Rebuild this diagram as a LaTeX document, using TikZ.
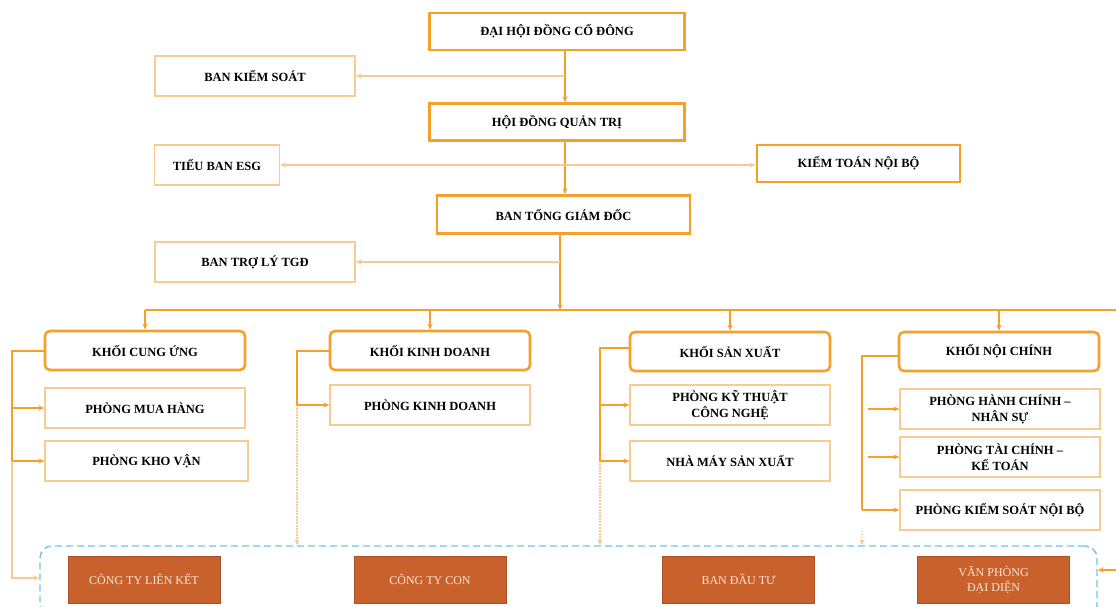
\documentclass[tikz,border=0pt]{standalone}
\usepackage{fontspec}
\setmainfont{Liberation Serif}
\usetikzlibrary{arrows.meta}
\definecolor{cam}{HTML}{F5A02A}
\definecolor{camnhat}{HTML}{F8CC90}
\definecolor{nau}{HTML}{C8612C}
\definecolor{chunau}{HTML}{F7E6D4}
\definecolor{xanh}{HTML}{6EC6E2}

\begin{document}
\begin{tikzpicture}[x=1pt,y=-1pt,
	khung/.style={draw=cam,line width=2.6pt,fill=white,inner sep=0pt,align=center,
		font=\bfseries\fontsize{12.5}{16}\selectfont},
	khoi/.style={khung,rounded corners=5pt,minimum width=200pt,minimum height=39pt},
	phong/.style={draw=camnhat,line width=1.3pt,fill=white,inner sep=0pt,align=center,
		minimum width=200pt,minimum height=40pt,font=\bfseries\fontsize{12.5}{16}\selectfont},
	donvi/.style={fill=nau,draw=nau!85!black,line width=0.6pt,text=chunau,inner sep=0pt,align=center,
		minimum width=152pt,minimum height=47pt,font=\fontsize{12}{15}\selectfont},
	truc/.style={draw=cam,line width=2pt},
	nhanh/.style={draw=camnhat,line width=1.4pt},
	cham/.style={draw=camnhat,line width=1.3pt,dash pattern=on 1.5pt off 1.5pt},
	mui/.style={-{Stealth[length=6pt,width=5pt]}}
	]
	\useasboundingbox (0,0) rectangle (1116,607);
	
	% cap lanh dao
	\node[khung,minimum width=255pt,minimum height=37pt] (dhdcd) at (557,31.5) {ĐẠI HỘI ĐỒNG CỔ ĐÔNG};
	\node[phong] (bks) at (255,76) {BAN KIỂM SOÁT};
	\node[khung,minimum width=255pt,minimum height=37pt] (hdqt) at (557,122) {HỘI ĐỒNG QUẢN TRỊ};
	\node[phong,minimum width=125pt] (esg) at (217,165) {TIỂU BAN ESG};
	\node[khung,minimum width=203pt,minimum height=37pt] (ktnb) at (858.5,163.5) {KIỂM TOÁN NỘI BỘ};
	\node[khung,minimum width=253pt,minimum height=38pt] (btgd) at (563.5,214.5) {BAN TỔNG GIÁM ĐỐC};
	\node[phong] (btl) at (255,262) {BAN TRỢ LÝ TGĐ};
	
	% cac khoi
	\node[khoi] (kcu) at (145,350.5) {KHỐI CUNG ỨNG};
	\node[khoi] (kkd) at (430,350.5) {KHỐI KINH DOANH};
	\node[khoi] (ksx) at (730,351.5) {KHỐI SẢN XUẤT};
	\node[khoi] (knc) at (999,351.5) {KHỐI NỘI CHÍNH};
	
	\node[phong] (pmh) at (145,408) {PHÒNG MUA HÀNG};
	\node[phong,minimum width=203pt] (pkv) at (146.5,461) {PHÒNG KHO VẬN};
	\node[phong] (pkd) at (430,405) {PHÒNG KINH DOANH};
	\node[phong] (pkt) at (730,405) {PHÒNG KỸ THUẬT\\CÔNG NGHỆ};
	\node[phong] (nmsx) at (730,461) {NHÀ MÁY SẢN XUẤT};
	\node[phong] (phc) at (1000,409) {PHÒNG HÀNH CHÍNH –\\NHÂN SỰ};
	\node[phong] (ptc) at (1000,457) {PHÒNG TÀI CHÍNH –\\KẾ TOÁN};
	\node[phong] (pks) at (1000,510) {PHÒNG KIỂM SOÁT NỘI BỘ};
	
	% cong ty, van phong
	\node[draw=xanh,line width=1.4pt,dash pattern=on 7pt off 4pt,rounded corners=12pt,
		minimum width=1057pt,minimum height=72pt,inner sep=0pt] (congty) at (568.5,582) {};
	\node[donvi] (ctlk) at (144,579.5) {CÔNG TY LIÊN KẾT};
	\node[donvi] (ctc) at (430,579.5) {CÔNG TY CON};
	\node[donvi] (bdt) at (738.5,579.5) {BAN ĐẦU TƯ};
	\node[donvi] (vpdd) at (993.5,579.5) {VĂN PHÒNG\\ĐẠI DIỆN};
	
	% truc chinh
	\coordinate (r1) at (565,76);
	\coordinate (r2) at (565,165);
	\coordinate (r3) at (560,262);
	\coordinate (b0) at (560,310);
	\coordinate (bphai) at (1116,310);
	\draw[truc,mui] (dhdcd.south -| r1) -- (hdqt.north -| r1);
	\draw[nhanh,mui] (r1) -- (bks.east);
	\draw[truc,mui] (hdqt.south -| r2) -- (btgd.north -| r2);
	\draw[nhanh,mui] (r2) -- (esg.east);
	\draw[nhanh,mui] (r2) -- (ktnb.west |- r2);
	\draw[truc,mui] (btgd.south -| r3) -- (b0);
	\draw[nhanh,mui] (r3) -- (btl.east);
	\draw[truc] (kcu.north |- b0) -- (bphai);
	\draw[truc,mui] (kcu.north |- b0) -- (kcu.north);
	\draw[truc,mui] (kkd.north |- b0) -- (kkd.north);
	\draw[truc,mui] (ksx.north |- b0) -- (ksx.north);
	\draw[truc,mui] (knc.north |- b0) -- (knc.north);
	
	% khoi cung ung
	\coordinate (cu) at (12,578);
	\draw[truc] (kcu.west) -- (kcu.west -| cu) -- (pkv.west -| cu);
	\draw[truc,mui] (pmh.west -| cu) -- (pmh.west);
	\draw[truc,mui] (pkv.west -| cu) -- (pkv.west);
	\draw[nhanh,mui] (pkv.west -| cu) -- (cu) -- (congty.west |- cu);
	
	% khoi kinh doanh
	\coordinate (kd) at (297,0);
	\draw[truc] (kkd.west) -- (kkd.west -| kd) -- (pkd.west -| kd);
	\draw[truc,mui] (pkd.west -| kd) -- (pkd.west);
	\draw[cham,mui] (pkd.west -| kd) -- (kd |- congty.north);
	
	% khoi san xuat
	\coordinate (sx) at (600,0);
	\draw[truc] ([yshift=4pt]ksx.west) -- ([yshift=4pt]ksx.west -| sx) -- (nmsx.west -| sx);
	\draw[truc,mui] (pkt.west -| sx) -- (pkt.west);
	\draw[truc,mui] (nmsx.west -| sx) -- (nmsx.west);
	\draw[cham,mui] (nmsx.west -| sx) -- (sx |- congty.north);
	
	% khoi noi chinh
	\coordinate (nc) at (862,0);
	\coordinate (nc2) at (868,0);
	\draw[truc] ([yshift=-4pt]knc.west) -- ([yshift=-4pt]knc.west -| nc) -- (pks.west -| nc);
	\draw[truc,mui] (phc.west -| nc2) -- (phc.west);
	\draw[truc,mui] (ptc.west -| nc2) -- (ptc.west);
	\draw[truc,mui] (pks.west -| nc) -- (pks.west);
	\draw[cham,mui] (pks.south -| nc) -- (nc |- congty.north);
	
	% ben phai
	\coordinate (phai) at (1116,570);
	\draw[truc,mui] (phai) -- (congty.east |- phai);
\end{tikzpicture}
\end{document}
